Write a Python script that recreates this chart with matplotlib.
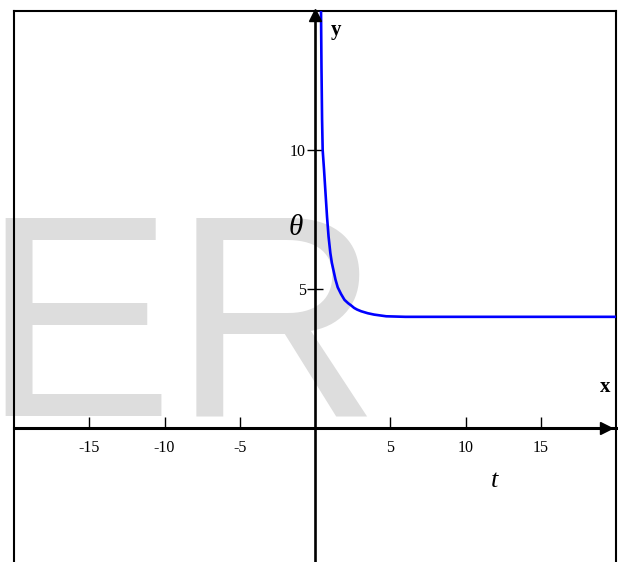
import matplotlib
matplotlib.use("Agg")
import matplotlib.pyplot as plt

plt.rcParams['axes.unicode_minus'] = False
plt.rcParams['font.family'] = ['Liberation Serif', 'DejaVu Serif']

# Temperature response theta(t)
t_vals = [0.38, 0.40, 0.43, 0.47, 0.51, 0.60, 0.67, 0.80, 0.90, 1.02, 1.12,
          1.24, 1.36, 1.51, 1.73, 1.96, 2.20, 2.40, 2.60, 2.80, 3.07, 3.50,
          3.93, 4.73, 6.0, 10.0, 15.0, 20.0]
theta_vals = [16.0, 15.0, 13.0, 11.1, 10.0, 9.3, 8.7, 7.6, 6.9, 6.3, 5.95,
              5.65, 5.35, 5.07, 4.83, 4.62, 4.50, 4.42, 4.33, 4.27, 4.21, 4.14,
              4.09, 4.03, 4.01, 4.01, 4.01, 4.01]

x_ticks = [-15, -10, -5, 5, 10, 15]
y_ticks = [5, 10]

W, H = 618, 562
fig = plt.figure(figsize=(W / 100, H / 100), dpi=100)
ax = fig.add_axes([14 / W, 0, (616 - 14) / W, (H - 11) / H])
ax.set_xlim(-20, 20)
ax.set_ylim(-4.8, 15)
ax.patch.set_visible(False)

# watermark letters behind everything
fig.text(-19 / W, (H - 415) / H, "ER", family=['Liberation Sans', 'DejaVu Sans'],
         fontsize=207, color='#dddddd', ha='left', va='baseline', zorder=-5)

# axes through the origin
ax.spines['left'].set_position(('data', 0))
ax.spines['bottom'].set_position(('data', 0))
ax.spines['left'].set_linewidth(1.9)
ax.spines['bottom'].set_linewidth(2.2)
ax.spines['top'].set_linewidth(1.5)
ax.spines['right'].set_linewidth(1.5)
# left edge of the frame
ax.plot([0, 0], [0, 1], transform=ax.transAxes, color='black', lw=1.5,
        clip_on=False, zorder=5)

# arrow heads
ax.plot(19.35, 0, '>', color='black', markersize=9, clip_on=False, zorder=6)
ax.plot(0, 14.87, '^', color='black', markersize=9, clip_on=False, zorder=6)

ax.set_xticks(x_ticks)
ax.set_yticks(y_ticks)
ax.set_xticklabels([str(v) for v in x_ticks])
ax.set_yticklabels([str(v) for v in y_ticks])
ax.tick_params(axis='x', direction='in', length=8, width=1.0, pad=8,
               labelsize=11.5)
ax.tick_params(axis='y', direction='inout', length=11, width=1.0, pad=1,
               labelsize=11.5)

ax.plot(t_vals, theta_vals, color='#0000ff', lw=1.9, zorder=4)

ax.text(1.03, 14.3, "y", fontsize=15, fontweight='bold', ha='left',
        va='center')
ax.text(19.3, 1.5, "x", fontsize=15, fontweight='bold', ha='center',
        va='center')
ax.text(-1.3, 7.2, "θ", fontsize=21, style='italic', ha='center', va='center')
ax.text(11.9, -1.9, "t", fontsize=19, style='italic', ha='center', va='center')

fig.savefig("out.png", dpi=100)
